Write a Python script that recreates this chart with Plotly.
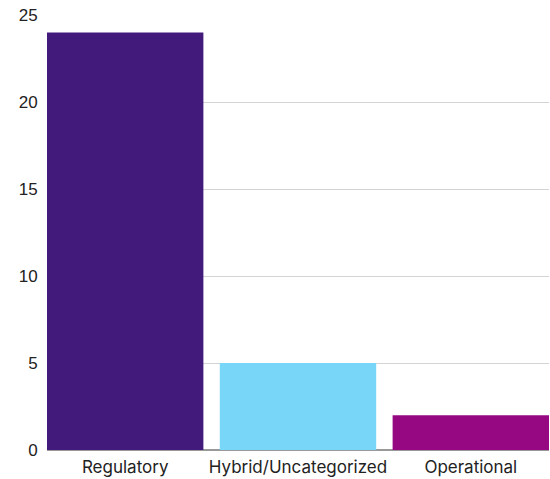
import plotly.graph_objects as go

categories = ["Regulatory", "Hybrid/Uncategorized", "Operational"]
values = [24, 5, 2]
colors = ["#421a7c", "#78d7f8", "#960882"]
y_ticks = [0, 5, 10, 15, 20, 25]

fig = go.Figure(go.Bar(x=categories, y=values, marker=dict(color=colors, line=dict(width=0)),
                       width=0.905))
fig.update_layout(
    width=550, height=479,
    margin=dict(l=47, r=1, t=15, b=29, autoexpand=False),
    plot_bgcolor="white", paper_bgcolor="white",
    showlegend=False,
    font=dict(family="Liberation Sans, Arial", size=16, color="#222"),
)
fig.update_xaxes(range=[-0.4525, 2.4525], showgrid=False, showline=False, automargin=False,
                 ticks="outside", ticklen=2, tickcolor="rgba(0,0,0,0)",
                 tickfont=dict(family="Inter, Open Sans", size=17, color="#222"))
fig.update_yaxes(range=[0, 25], tickvals=y_ticks, showgrid=True, gridcolor="#d4d4d4",
                 automargin=False,
                 zeroline=True, zerolinecolor="#999", zerolinewidth=1.5, ticks="outside",
                 ticklen=5, tickcolor="rgba(0,0,0,0)",
                 tickfont=dict(family="Liberation Sans, Arial", size=17, color="#222"))
fig.write_html("out.html")
